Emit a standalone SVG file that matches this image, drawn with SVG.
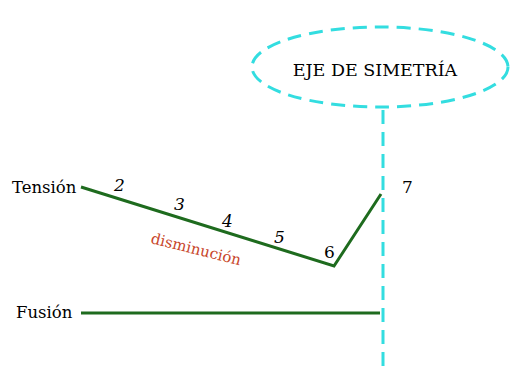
<svg xmlns="http://www.w3.org/2000/svg" width="511" height="370" viewBox="0 0 511 370">
<style>
text{font-family:"DejaVu Serif","Liberation Serif",serif;font-size:16.5px;fill:#000}
.head{font-size:17.5px}
.num{font-size:17px}
.it{font-style:italic}
.axis{fill:none;stroke:#33dde0;stroke-width:3;stroke-dasharray:14 8}
.curve{fill:none;stroke:#1e6b1e;stroke-width:3;stroke-linejoin:miter}
.red{fill:#c8452a;font-size:15px}
</style>
<rect width="511" height="370" fill="#fff"/>
<g id="eje">
<ellipse class="axis" cx="380" cy="67" rx="128" ry="40"/>
<text class="head" x="375" y="76" text-anchor="middle">EJE DE SIMETRÍA</text>
</g>
<g id="connectors">
<line class="axis" x1="383" y1="110" x2="383" y2="370"/>
<polyline class="curve" points="81,187 334,266 381,194"/>
<line class="curve" x1="81" y1="313" x2="380" y2="313"/>
</g>
<g id="tension"><text x="12" y="193">Tensión</text></g>
<g id="fusion"><text x="16" y="318">Fusión</text></g>
<g id="labels">
<text class="num it" x="114" y="191">2</text>
<text class="num it" x="174" y="210">3</text>
<text class="num it" x="222" y="227">4</text>
<text class="num it" x="274" y="243">5</text>
<text class="num" x="324" y="258">6</text>
<text class="num" x="402" y="193">7</text>
<text class="red" transform="translate(150,243) rotate(14)">disminución</text>
</g>
</svg>
